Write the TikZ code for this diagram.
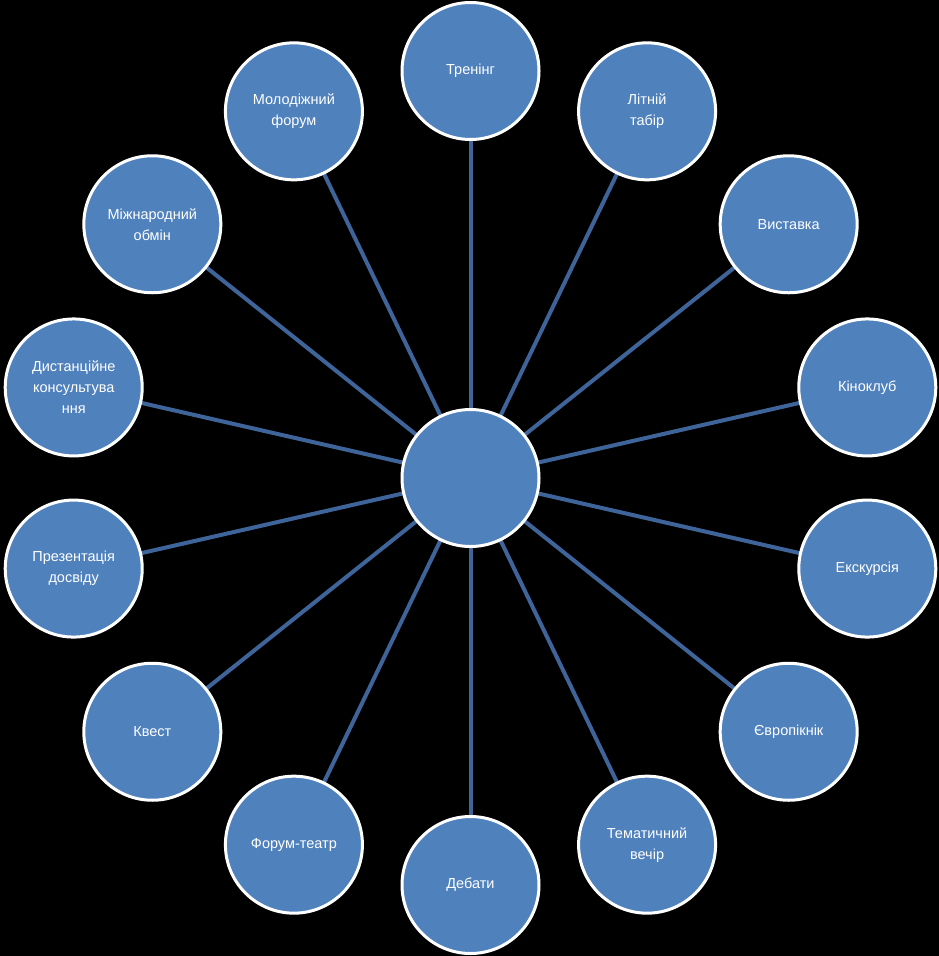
\documentclass[tikz,border=0pt]{standalone}
\usepackage{fontspec}
\setmainfont{Liberation Sans}
\usetikzlibrary{backgrounds}
\definecolor{bubble}{HTML}{4F81BD}
\definecolor{spoke}{HTML}{3F6499}
\begin{document}
\begin{tikzpicture}[x=1pt,y=1pt,
  bub/.style={circle,draw=white,line width=3pt,fill=bubble,minimum size=137pt,inner sep=0pt,
    text=white,font=\fontsize{14.5}{21}\selectfont,align=center},
  spk/.style={draw=spoke,line width=4pt}]
\useasboundingbox (0,0) rectangle (939,-956);
\coordinate (O) at (470.5,-478);
\node[bub] (c) at (O) {};
\foreach \i/\t in {0/{Тренінг},1/{Літній\\табір},2/{Виставка},3/{Кіноклуб},4/{Екскурсія},5/{Європікнік},6/{Тематичний\\вечір},7/{Дебати},8/{Форум-театр},9/{Квест},10/{Презентація\\досвіду},11/{Дистанційне\\консультува\\ння},12/{Міжнародний\\обмін},13/{Молодіжний\\форум}}{
  \path (O) ++({90-\i*360/14}:407) node[bub] (n\i) {\t};
}
\begin{scope}[on background layer]
\fill[black] (0,0) rectangle (939,-956);
\foreach \i in {0,...,13}{
  \draw[spk] (c.center) -- (n\i.center);
}
\end{scope}
\end{tikzpicture}
\end{document}
